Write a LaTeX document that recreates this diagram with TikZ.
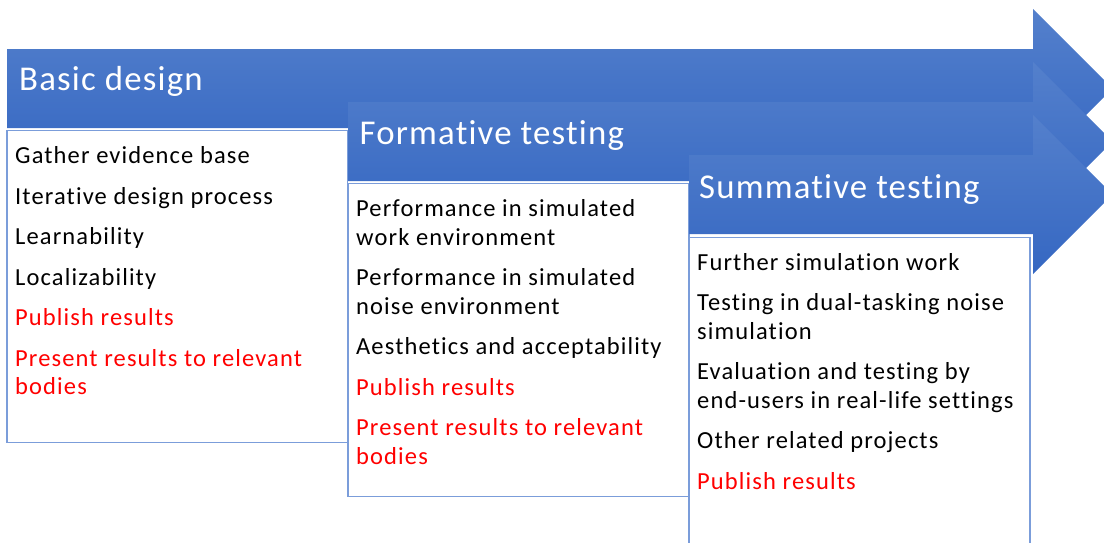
\documentclass[tikz,border=0pt]{standalone}
\usepackage{fontspec}
\setmainfont{Carlito}
\newfontfamily\itemfont[LetterSpace=4.6,Ligatures=NoCommon]{Carlito}
\newfontfamily\titlefont[LetterSpace=3.4,Ligatures=NoCommon]{Carlito}
\definecolor{arrtop}{HTML}{5480CC}
\definecolor{arrbot}{HTML}{3567C2}
\definecolor{boxc}{HTML}{7B9DDA}
\definecolor{itemred}{HTML}{FF0000}
\tikzset{
  arr/.style={top color=arrtop, bottom color=arrbot, draw=none},
  box/.style={draw=boxc, line width=1.1pt, fill=white},
  title/.style={anchor=base west, text=white, font=\titlefont\fontsize{34.8}{40}\selectfont, inner sep=0pt},
  item/.style={anchor=base west, font=\itemfont\fontsize{24.5}{28.5}\selectfont, inner sep=0pt},
  reditem/.style={item, text=itemred}
}
\begin{document}
\begin{tikzpicture}[x=1pt,y=-1pt]
\useasboundingbox (0,0) rectangle (1104,542);
\clip (0,0) rectangle (1104,542);
% arrow 1 and box 1
\path[arr] (7,49) -- (1033,49) -- (1033,9) -- (1112.5,88.5) -- (1033,168) -- (1033,128) -- (7,128) -- cycle;
\node[title] (t1) at (19,90) {Basic design};
\draw[box] (7,130.5) rectangle (347.5,442.5);
% arrow 2 and box 2
\path[arr] (348,102) -- (1033,102) -- (1033,62) -- (1112.5,141.5) -- (1033,221) -- (1033,181) -- (348,181) -- cycle;
\node[title] (t2) at (359.5,144.5) {Formative testing};
\draw[box] (348,183.5) rectangle (689,496.5);
% arrow 3 and box 3
\path[arr] (689,155) -- (1033,155) -- (1033,115) -- (1112.5,194.5) -- (1033,274) -- (1033,234) -- (689,234) -- cycle;
\node[title] (t3) at (699,198) {Summative testing};
\draw[box] (689,237.5) rectangle (1030,560);
% box 1 items
\node[item] (a1) at (15,163.3) {Gather evidence base};
\node[item] (a2) at (15,204) {Iterative design process};
\node[item] (a3) at (15,244.5) {Learnability};
\node[item] (a4) at (15,285) {Localizability};
\node[reditem] (a5) at (15,325.5) {Publish results};
\node[reditem] (a6) at (15,366) {Present results to relevant};
\node[reditem] (a7) at (15,394.5) {bodies};
% box 2 items
\node[item] (b1) at (356,216.7) {Performance in simulated};
\node[item] (b2) at (356,245.2) {work environment};
\node[item] (b3) at (356,285.7) {Performance in simulated};
\node[item] (b4) at (356,314.2) {noise environment};
\node[item] (b5) at (356,354.7) {Aesthetics and acceptability};
\node[reditem] (b6) at (356,395.2) {Publish results};
\node[reditem] (b7) at (356,435.7) {Present results to relevant};
\node[reditem] (b8) at (356,464.2) {bodies};
% box 3 items
\node[item] (c1) at (697,270) {Further simulation work};
\node[item] (c2) at (697,310.5) {Testing in dual-tasking noise};
\node[item] (c3) at (697,339) {simulation};
\node[item] (c4) at (697,379.5) {Evaluation and testing by};
\node[item] (c5) at (697,408) {end-users in real-life settings};
\node[item] (c6) at (697,448.5) {Other related projects};
\node[reditem] (c7) at (697,489) {Publish results};
\end{tikzpicture}
\end{document}
